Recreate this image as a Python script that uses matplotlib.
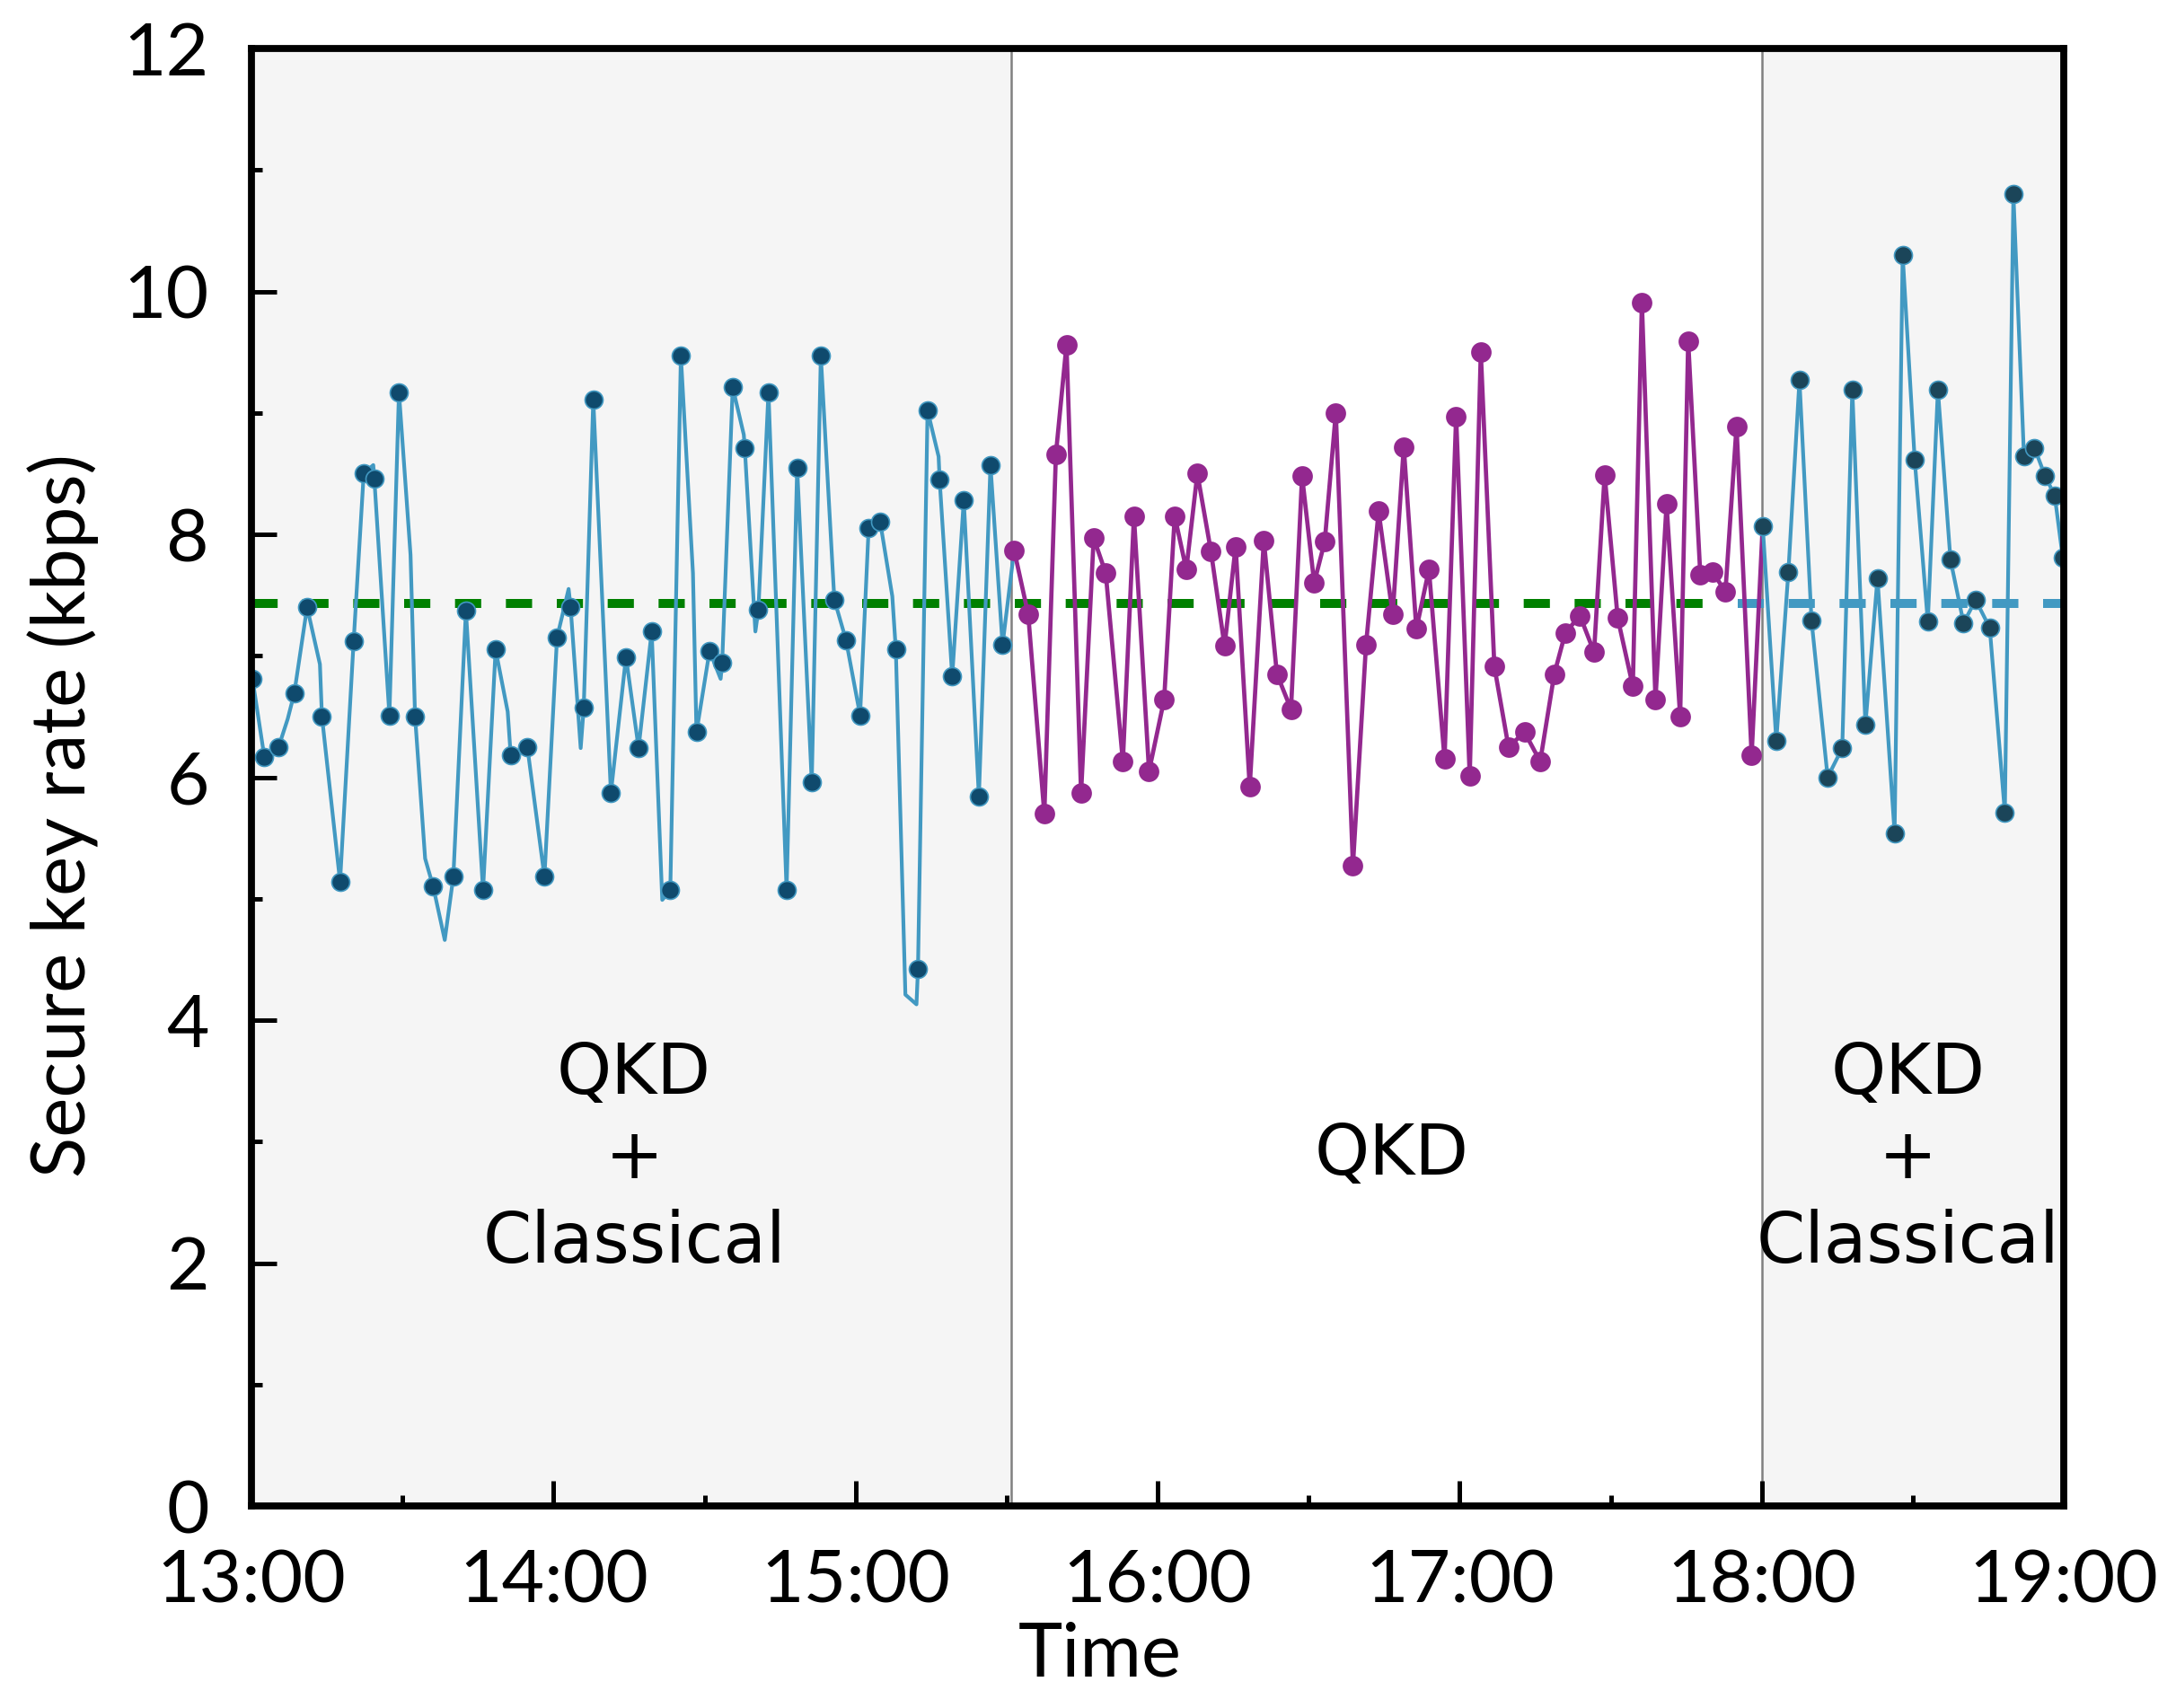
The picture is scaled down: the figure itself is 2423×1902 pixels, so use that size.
import numpy as np
import matplotlib
matplotlib.use("Agg")
import matplotlib.pyplot as plt

# time in minutes after 13:00, rate in kbps
# QKD + classical (first block), points that carry a marker
blue1_t = [0.2, 2.55, 5.4, 8.5, 11.05, 14.0, 17.6, 20.3, 22.3, 24.4, 27.4, 29.3,
           32.5, 36.1, 40.1, 42.6, 46.0, 48.5, 51.5, 54.8, 58.2, 60.7, 63.4, 66.0,
           67.9, 71.4, 74.4, 76.9, 79.5, 83.2, 85.3, 88.4, 91.0, 93.5, 95.6, 98.0,
           100.7, 102.7, 106.3, 108.4, 111.3, 113.1, 115.8, 118.1, 120.9, 122.6,
           124.9, 128.0, 132.4, 134.3, 136.7, 139.2, 141.5, 144.5, 146.8, 149.2]
blue1_v = [6.81, 6.17, 6.25, 6.69, 7.40, 6.50, 5.14, 7.12, 8.50, 8.46, 6.51, 9.17,
           6.50, 5.10, 5.18, 7.37, 5.07, 7.05, 6.18, 6.25, 5.18, 7.15, 7.40, 6.57,
           9.11, 5.87, 6.99, 6.24, 7.20, 5.07, 9.47, 6.37, 7.04, 6.94, 9.21, 8.71,
           7.38, 9.17, 5.07, 8.55, 5.96, 9.47, 7.46, 7.13, 6.51, 8.05,
           8.10, 7.05, 4.42, 9.02, 8.45, 6.83, 8.28, 5.84, 8.57, 7.09]
# extra vertices of the blue trace without a marker
blue1_extra_t = [7.2, 13.6, 24.2, 31.6, 34.5, 38.4, 50.9, 63.0, 65.4, 81.6, 87.7,
                 93.2, 97.8, 100.1, 115.6, 127.3, 129.9, 132.1, 136.5]
blue1_extra_v = [6.48, 6.93, 8.57, 7.83, 5.33, 4.66, 6.54, 7.55, 6.24, 4.99, 7.68,
                 6.81, 8.82, 7.20, 7.60, 7.49, 4.21, 4.13, 8.64]

# QKD only
purple_t = [151.5, 154.3, 157.5, 159.8, 161.9, 164.8, 167.3, 169.7, 173.1, 175.3,
            178.3, 181.3, 183.4, 185.7, 187.9, 190.6, 193.3, 195.5, 198.3, 201.1,
            203.7, 206.5, 208.7, 211.1, 213.2, 215.4, 218.8, 221.4, 223.9, 226.7,
            228.9, 231.4, 233.9, 237.0, 239.3, 242.0, 244.2, 246.9, 249.7, 252.9,
            256.0, 258.8, 261.0, 263.9, 266.7, 268.8, 271.4, 274.4, 276.2, 278.9,
            281.1, 283.8, 285.4, 287.8, 290.2, 292.8, 295.0, 298.0]
purple_v = [7.87, 7.34, 5.70, 8.66, 9.56, 5.87, 7.97, 7.68, 6.13, 8.15,
            6.05, 6.64, 8.15, 7.71, 8.50, 7.86, 7.08, 7.90, 5.92, 7.95,
            6.85, 6.56, 8.48, 7.60, 7.94, 9.00, 5.27, 7.09, 8.19, 7.34,
            8.72, 7.22, 7.71, 6.15, 8.97, 6.01, 9.50, 6.91, 6.25, 6.37,
            6.13, 6.85, 7.19, 7.33, 7.03, 8.49, 7.31, 6.75, 9.91, 6.64,
            8.25, 6.50, 9.59, 7.67, 7.69, 7.53, 8.89, 6.18]

# QKD + classical (second block)
blue2_t = [300.2, 302.9, 305.3, 307.5, 309.9, 313.1, 316.0, 318.0, 320.6, 323.0,
           326.4, 328.0, 330.4, 333.0, 335.0, 337.5, 340.1, 342.5, 345.3, 348.3,
           350.0, 352.1, 354.2, 356.3, 358.2, 359.8]
blue2_v = [8.07, 6.30, 7.69, 9.27, 7.29, 6.00, 6.24, 9.19, 6.43, 7.64,
           5.54, 10.30, 8.61, 7.28, 9.19, 7.79, 7.27, 7.46, 7.23, 5.71,
           10.80, 8.64, 8.71, 8.48, 8.32, 7.81]

mean_rate = 7.43
green_span = [0, 291]
blue_dash_span = [295.2, 360]
shaded = [(0, 151), (300, 360)]
switch_t = [151, 300]

xtick_t = [0, 60, 120, 180, 240, 300, 360]
xtick_lab = ["13:00", "14:00", "15:00", "16:00", "17:00", "18:00", "19:00"]
ytick_v = [0, 2, 4, 6, 8, 10, 12]
labels = ["QKD\n+\nClassical", "QKD", "QKD\n+\nClassical"]
label_t = [76, 226.5, 329]
label_v = [2.86, 2.89, 2.86]

c_blue = "#4299c2"
c_dark = "#0f4a6d"
c_purple = "#93288f"

fig = plt.figure(figsize=(2423 / 200, 1902 / 200), dpi=200)
ax = fig.add_axes([280 / 2423, 1 - 1677 / 1902, 2018 / 2423, 1623 / 1902])

for a, b in shaded:
    ax.axvspan(a, b, color="#f5f5f5", lw=0, zorder=0)
for s in switch_t:
    ax.axvline(s, color="#808080", lw=0.9, zorder=1)

lw_d = 3.6
ax.plot(green_span, [mean_rate] * 2, color="#008000", lw=lw_d,
        dashes=(10.5 / lw_d, 9.9 / lw_d), zorder=2)
ax.plot(blue_dash_span, [mean_rate] * 2, color=c_blue, lw=lw_d,
        dashes=(10.5 / lw_d, 9.9 / lw_d), zorder=2)

# blue trace 1 (markers + extra vertices), continues to the first purple point
bt = np.array(blue1_t + blue1_extra_t + [purple_t[0]])
bv = np.array(blue1_v + blue1_extra_v + [purple_v[0]])
order = np.argsort(bt)
ax.plot(bt[order], bv[order], color=c_blue, lw=1.5, zorder=3)
ax.plot(blue1_t, blue1_v, ls="none", marker="o", ms=7.2, mfc=c_dark,
        mec=c_blue, mew=0.6, zorder=4)

ax.plot(purple_t + [blue2_t[0]], purple_v + [blue2_v[0]], color=c_purple,
        lw=1.7, zorder=3)
ax.plot(purple_t, purple_v, ls="none", marker="o", ms=7.2, color=c_purple,
        zorder=4)

ax.plot(blue2_t, blue2_v, color=c_blue, lw=1.5, zorder=3)
ax.plot(blue2_t, blue2_v, ls="none", marker="o", ms=7.2, mfc="#1b4559",
        mec=c_blue, mew=0.6, zorder=4)

for s, x, y in zip(labels, label_t, label_v):
    ax.text(x, y, s, ha="center", va="center", fontsize=28,
            family="DejaVu Sans", linespacing=1.3)

ax.set_xlim(0, 360)
ax.set_ylim(0, 12)
ax.set_xticks(xtick_t)
ax.set_xticklabels(xtick_lab)
ax.set_xticks(np.arange(30, 360, 60), minor=True)
ax.set_yticks(ytick_v)
ax.set_yticks(np.arange(1, 12, 2), minor=True)
ax.tick_params(which="both", direction="in", width=1.8, labelsize=29.5,
               pad=17)
ax.tick_params(which="major", length=10)
ax.tick_params(which="minor", length=4.3)
for lab in ax.get_xticklabels() + ax.get_yticklabels():
    lab.set_family("Lato")
for sp in ax.spines.values():
    sp.set_linewidth(2.8)
    sp.set_zorder(6)

ax.set_xlabel("Time", fontsize=30, family="Lato", va="top")
ax.xaxis.set_label_coords(0.468, -0.079)
ax.set_ylabel("Secure key rate (kbps)", fontsize=30, family="Lato")
ax.yaxis.set_label_coords(-0.084, 0.474)

fig.savefig("out.png", dpi=200)
